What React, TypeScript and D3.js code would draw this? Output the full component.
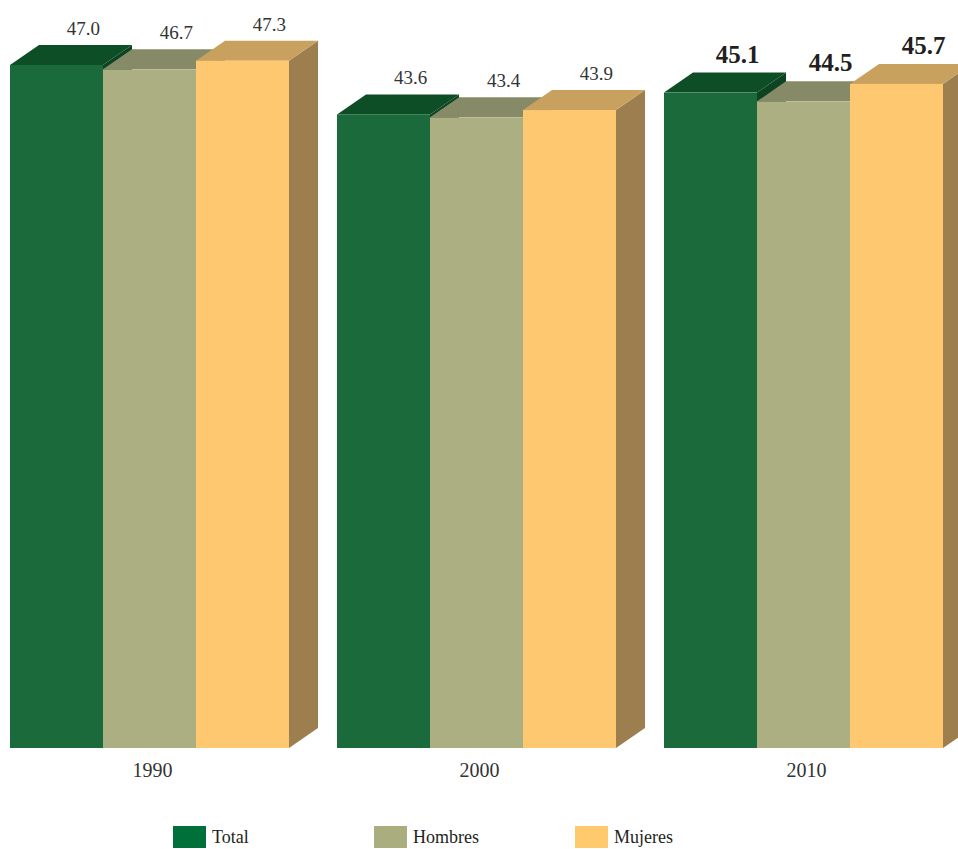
import React from "react";
import * as d3 from "d3";

const years = ["1990", "2000", "2010"];
const seriesNames = ["Total", "Hombres", "Mujeres"];
const totalValues = [47.0, 43.6, 45.1];
const hombresValues = [46.7, 43.4, 44.5];
const mujeresValues = [47.3, 43.9, 45.7];
const boldYear = "2010";

const W = 958;
const H = 849;
const DX = 29;
const DY = 20;
const FONT = "Liberation Serif";

const palette: Record<string, { front: string; top: string; side: string; legend: string }> = {
  Total: { front: "#1b6a3b", top: "#0e4e26", side: "#0c4322", legend: "#00703a" },
  Hombres: { front: "#abaf82", top: "#878a66", side: "#75785a", legend: "#aaae7e" },
  Mujeres: { front: "#fec870", top: "#c9a15f", side: "#9d7f4f", legend: "#ffc96e" },
};

export default function App() {
  const valuesBySeries: Record<string, number[]> = {
    Total: totalValues,
    Hombres: hombresValues,
    Mujeres: mujeresValues,
  };

  const x0 = d3.scaleBand<string>().domain(years).range([10, 943]).paddingInner(0.1468).paddingOuter(0);
  const x1 = d3.scaleBand<string>().domain(seriesNames).range([0, x0.bandwidth()]).padding(0);
  const y = d3.scaleLinear().domain([0, 50]).range([748, 748 - 50 * (683 / 47)]);
  const base = y(0);

  const bars: React.ReactNode[] = [];
  const labels: React.ReactNode[] = [];

  years.forEach((yr, gi) => {
    seriesNames.forEach((s) => {
      const v = valuesBySeries[s][gi];
      const xl = (x0(yr) ?? 0) + (x1(s) ?? 0);
      const w = x1.bandwidth();
      const xr = xl + w;
      const yt = y(v);
      const c = palette[s];
      const side = `M${xr},${yt} L${xr + DX},${yt - DY} L${xr + DX},${base - DY} L${xr},${base} Z`;
      const top = `M${xl},${yt} L${xl + DX},${yt - DY} L${xr + DX},${yt - DY} L${xr},${yt} Z`;
      bars.push(
        <g key={`${yr}-${s}`}>
          <path d={side} fill={c.side} />
          <path d={top} fill={c.top} />
          <rect x={xl} y={yt} width={w} height={base - yt} fill={c.front} />
        </g>
      );
      const bold = yr === boldYear;
      labels.push(
        <text
          key={`l-${yr}-${s}`}
          x={xl + w / 2 + 27}
          y={yt - DY - 10}
          textAnchor="middle"
          style={{ fontFamily: FONT, fontSize: bold ? 25 : 19, fontWeight: bold ? 700 : 400 }}
          fill={bold ? "#231f20" : "#333"}
        >
          {v.toFixed(1)}
        </text>
      );
    });
  });

  const legendX: Record<string, number> = { Total: 173, Hombres: 374, Mujeres: 575 };

  return (
    <svg
      width={W}
      height={H}
      viewBox={`0 0 ${W} ${H}`}
      style={{ position: "absolute", left: 0, top: 0, background: "#fff" }}
    >
      <rect x={0} y={0} width={W} height={H} fill="#fff" />
      {bars}
      {labels}
      {years.map((yr) => (
        <text
          key={`y-${yr}`}
          x={(x0(yr) ?? 0) + x0.bandwidth() / 2 + 3}
          y={777}
          textAnchor="middle"
          style={{ fontFamily: FONT, fontSize: 20 }}
          fill="#333"
        >
          {yr}
        </text>
      ))}
      {seriesNames.map((s) => (
        <g key={`lg-${s}`}>
          <rect x={legendX[s]} y={826} width={33} height={22} fill={palette[s].legend} />
          <text
            x={legendX[s] + 39}
            y={843}
            style={{ fontFamily: FONT, fontSize: 18 }}
            fill="#231f20"
          >
            {s}
          </text>
        </g>
      ))}
    </svg>
  );
}
